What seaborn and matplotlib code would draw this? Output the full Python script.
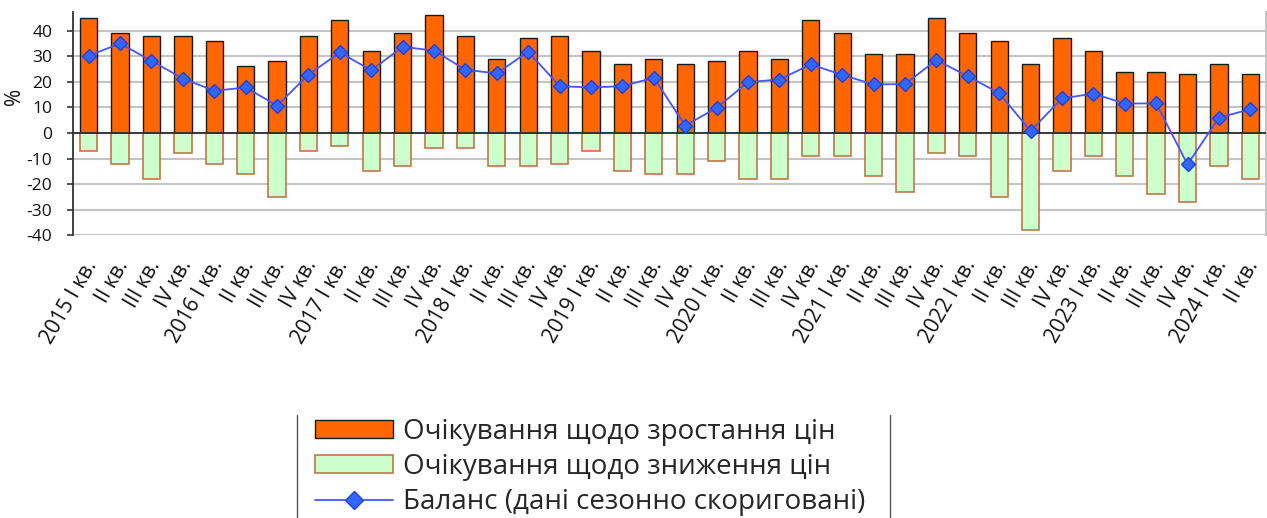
import matplotlib
matplotlib.use("Agg")
import matplotlib.pyplot as plt
from matplotlib.patches import Patch
from matplotlib.lines import Line2D
from matplotlib.transforms import ScaledTranslation
import seaborn as sns
import numpy as np

# ---- data ----
years = [2015, 2016, 2017, 2018, 2019, 2020, 2021, 2022, 2023, 2024]
quarter_names = ["I кв.", "II кв.", "III кв.", "IV кв."]
n_periods = 38

rise = [45, 39, 38, 38, 36, 26, 28, 38, 44, 32, 39, 46, 38, 29, 37, 38,
        32, 27, 29, 27, 28, 32, 29, 44, 39, 31, 31, 45, 39, 36, 27, 37,
        32, 24, 24, 23, 27, 23]
fall = [-7, -12, -18, -8, -12, -16, -25, -7, -5, -15, -13, -6, -6, -13, -13, -12,
        -7, -15, -16, -16, -11, -18, -18, -9, -9, -17, -23, -8, -9, -25, -38, -15,
        -9, -17, -24, -27, -13, -18]
balance = [30.2, 35.0, 28.2, 21.3, 16.5, 17.8, 10.7, 22.8, 31.5, 24.5, 33.7, 32.2,
           24.7, 23.3, 31.8, 18.3, 17.8, 18.3, 21.6, 2.9, 9.8, 19.9, 20.9, 26.8,
           22.7, 19.0, 19.1, 28.5, 22.2, 15.6, 0.8, 13.5, 15.4, 11.5, 11.6, -12.3,
           6.0, 9.3]

periods = [f"{y} {q}" for y in years for q in quarter_names][:n_periods]
tick_labels = [f"{y} {q}" if q == "I кв." else q for y in years for q in quarter_names][:n_periods]

label_rise = "Очікування щодо зростання цін"
label_fall = "Очікування щодо зниження цін"
label_bal = "Баланс (дані сезонно скориговані)"

# ---- style ----
sns.set_theme(style="white")
plt.rcParams["font.family"] = ["Open Sans", "DejaVu Sans"]
plt.rcParams["axes.unicode_minus"] = False

fig = plt.figure(figsize=(12.67, 5.18), dpi=100)
ax = fig.add_axes([73 / 1267, (518 - 235.3) / 518, 1193 / 1267, (235.3 - 12) / 518])

sns.barplot(x=periods, y=rise, order=periods, color="#FF6600", saturation=1,
            edgecolor="#1a1a1a", linewidth=1.0, width=0.55, ax=ax, zorder=3)
sns.barplot(x=periods, y=fall, order=periods, color="#CCFFCC", saturation=1,
            edgecolor="#c0784a", linewidth=1.2, width=0.55, ax=ax, zorder=3)
sns.pointplot(x=periods, y=balance, order=periods, color="#4455ff", errorbar=None,
              markers="D", linestyles="-", linewidth=1.3, markersize=7,
              markerfacecolor="#3366ff", markeredgecolor="#1f3fdd",
              markeredgewidth=1.0, ax=ax, zorder=5)

ax.axhline(0, color="#222222", lw=1.2, zorder=4)

ax.set_ylim(-40, 47.3)
ax.set_xlim(-0.5, n_periods - 0.5)
ax.set_yticks(np.arange(-40, 41, 10))
ax.yaxis.grid(True, color="#c4c4c4", lw=1.5, zorder=0)
ax.set_axisbelow(True)

for s in ["top", "bottom"]:
    ax.spines[s].set_visible(False)
ax.spines["left"].set_color("#333333")
ax.spines["left"].set_linewidth(1.3)
ax.spines["right"].set_color("#c4c4c4")
ax.spines["right"].set_linewidth(1.5)

ax.tick_params(axis="y", left=True, length=4.5, width=1.2, color="#333333",
               labelsize=12.5, labelcolor="#111111", pad=10.5)
ax.tick_params(axis="x", bottom=False, length=0, pad=19)
ax.set_xticks(range(n_periods))
ax.set_xticklabels(tick_labels, rotation=60, ha="right", va="center",
                   rotation_mode="anchor", fontsize=15, color="#111111")
offset = ScaledTranslation(4 / 100, 0, fig.dpi_scale_trans)
for lab in ax.get_xticklabels():
    lab.set_transform(lab.get_transform() + offset)

ax.set_xlabel("")
ax.set_ylabel("%", fontsize=15, color="#111111")
ax.yaxis.set_label_coords(-0.040, 0.62)

handles = [
    Patch(facecolor="#FF6600", edgecolor="#1a1a1a", linewidth=1.0),
    Patch(facecolor="#CCFFCC", edgecolor="#c0784a", linewidth=1.2),
    Line2D([0], [0], color="#4455ff", lw=1.3, marker="D", markersize=9,
           markerfacecolor="#3366ff", markeredgecolor="#1f3fdd"),
]
fs = 20
fig.legend(handles, [label_rise, label_fall, label_bal], loc="upper left",
           bbox_to_anchor=(315 / 1267, 1 - 418 / 518), frameon=False,
           fontsize=fs, borderpad=0, borderaxespad=0, handlelength=2.8,
           handleheight=0.62, handletextpad=0.36, labelspacing=0.26)

for xv in (297 / 1267, 890 / 1267):
    fig.add_artist(Line2D([xv, xv], [0, 1 - 415 / 518], transform=fig.transFigure,
                          color="#555555", lw=1.0))

fig.savefig("out.png", dpi=100)
